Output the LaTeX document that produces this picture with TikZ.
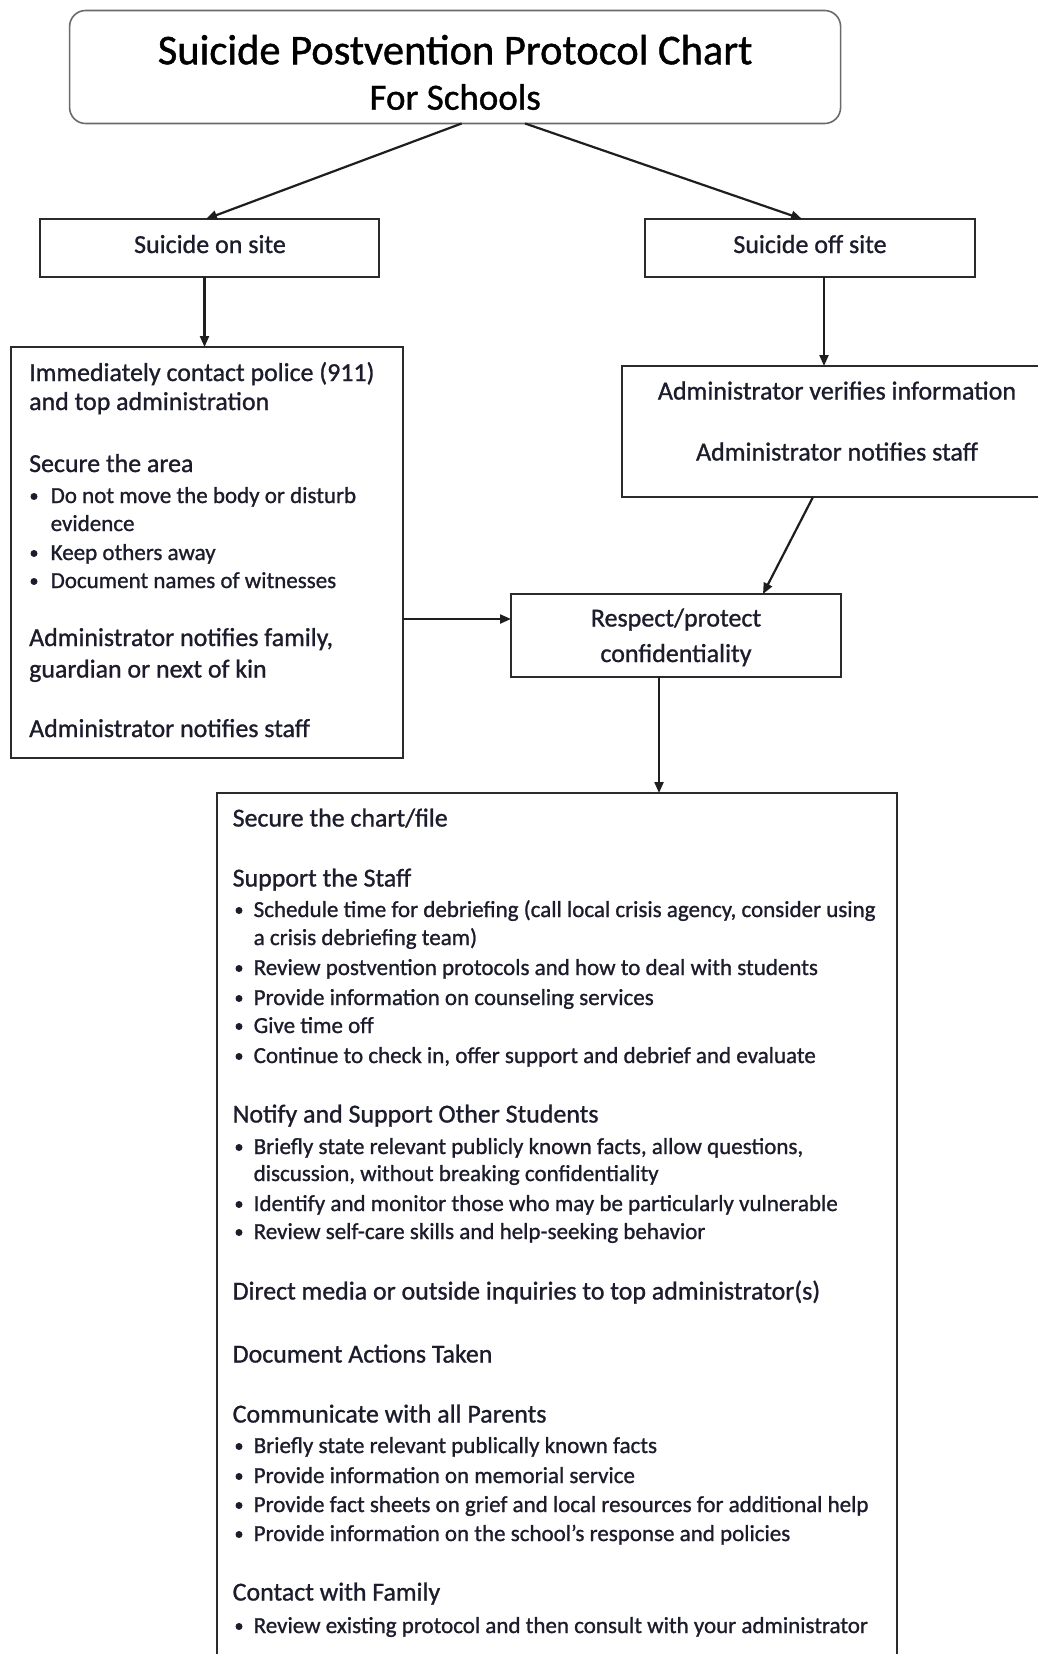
\documentclass[tikz,border=0pt]{standalone}
\usepackage{fontspec}
\setmainfont{Carlito}[FakeBold=1.0]
\usetikzlibrary{arrows.meta}
\definecolor{ink}{HTML}{1C1C2C}
\definecolor{boxc}{HTML}{2B2B2B}
\definecolor{titlec}{HTML}{6A6A6A}
\definecolor{linec}{HTML}{1E1E1E}
\tikzset{
  box/.style={draw=boxc, line width=1.8pt, anchor=north west, inner sep=0pt, outer sep=0pt},
  openbox/.style={draw=none, anchor=north west, inner sep=0pt, outer sep=0pt},
  arr/.style={draw=linec, line width=2.2pt, -{Triangle[length=11pt,width=9pt]}},
  hd/.style={anchor=base west, inner sep=0pt, text=ink, font=\fontsize{25.9}{30}\selectfont},
  bl/.style={anchor=base west, inner sep=0pt, text=ink, font=\fontsize{23}{27}\selectfont},
  hc/.style={anchor=base, inner sep=0pt, text=ink, font=\fontsize{26}{30}\selectfont},
  dotb/.style={circle, fill=ink, inner sep=0pt, minimum size=7pt},
}
\newcommand\bitem[5]{%
  \node[dotb] (#1d) at (#2,#4-6.5) {};
  \node[bl] (#1) at (#3,#4) {#5};}
\begin{document}
\begin{tikzpicture}[x=1pt,y=-1pt]
\useasboundingbox (0,0) rectangle (1038,1654);
\fill[white] (0,0) rectangle (1038,1654);

% ---- title ----
\node[box, draw=titlec, line width=1.6pt, rounded corners=16pt, minimum width=771pt, minimum height=113pt] (title) at (69.6,10.5) {};
\node[anchor=base, inner sep=0pt, text=black, font=\fontsize{42.5}{48}\selectfont] (t1) at (455.2,64.3) {Suicide Postvention Protocol Chart};
\node[anchor=base, inner sep=0pt, text=black, font=\fontsize{37}{42}\selectfont] (t2) at (455.2,109.7) {For Schools};

% ---- second row ----
\node[box, minimum width=339pt, minimum height=58pt] (onsite) at (40,219) {};
\node[hc] (onsitet) at (210,253) {Suicide on site};
\node[box, minimum width=330pt, minimum height=58pt] (offsite) at (645,219) {};
\node[hc] (offsitet) at (810,253) {Suicide off site};

% ---- left box ----
\node[box, minimum width=392pt, minimum height=411pt] (lbox) at (11,347) {};
\node[hd] (l1) at (29,381) {Immediately contact police (911)};
\node[hd] (l2) at (29,410) {and top administration};
\node[hd] (l3) at (29,472) {Secure the area};
\bitem{l4}{34}{50.5}{503}{Do not move the body or disturb}
\node[bl] (l5) at (50.5,531) {evidence};
\bitem{l6}{34}{50.5}{560}{Keep others away}
\bitem{l7}{34}{50.5}{588}{Document names of witnesses}
\node[hd] (l8) at (29,646) {Administrator notifies family,};
\node[hd] (l9) at (29,677.5) {guardian or next of kin};
\node[hd] (l10) at (29,737) {Administrator notifies staff};

% ---- admin box (open on the right) ----
\node[openbox, minimum width=416pt, minimum height=131pt] (abox) at (622,366) {};
\draw[boxc, line width=1.8pt] ([xshift=4pt]abox.north east) -- (abox.north west) -- (abox.south west) -- ([xshift=4pt]abox.south east);
\node[hc] (a1) at (837,399.5) {Administrator verifies information};
\node[hc] (a2) at (837,460.5) {Administrator notifies staff};

% ---- respect box ----
\node[box, minimum width=330pt, minimum height=83pt] (rbox) at (511,594) {};
\node[hc] (r1) at (676,626.5) {Respect/protect};
\node[hc] (r2) at (676,662) {confidentiality};

% ---- bottom box (open at the bottom) ----
\node[openbox, minimum width=680pt, minimum height=865pt] (bbox) at (217,793) {};
\draw[boxc, line width=1.8pt] (bbox.south west) -- (bbox.north west) -- (bbox.north east) -- (bbox.south east);
\node[hd] (b1) at (232.5,826.5) {Secure the chart/file};
\node[hd] (b2) at (232.5,886.5) {Support the Staff};
\bitem{b3}{239}{253.5}{917}{Schedule time for debriefing (call local crisis agency, consider using}
\node[bl] (b4) at (253.5,945) {a crisis debriefing team)};
\bitem{b5}{239}{253.5}{975}{Review postvention protocols and how to deal with students}
\bitem{b6}{239}{253.5}{1005}{Provide information on counseling services}
\bitem{b7}{239}{253.5}{1033}{Give time off}
\bitem{b8}{239}{253.5}{1063}{Continue to check in, offer support and debrief and evaluate}
\node[hd] (b9) at (232.5,1122.5) {Notify and Support Other Students};
\bitem{b10}{239}{253.5}{1154}{Briefly state relevant publicly known facts, allow questions,}
\node[bl] (b11) at (253.5,1181) {discussion, without breaking confidentiality};
\bitem{b12}{239}{253.5}{1211}{Identify and monitor those who may be particularly vulnerable}
\bitem{b13}{239}{253.5}{1239}{Review self-care skills and help-seeking behavior}
\node[hd] (b14) at (232.5,1299.5) {Direct media or outside inquiries to top administrator(s)};
\node[hd] (b15) at (232.5,1362.5) {Document Actions Taken};
\node[hd] (b16) at (232.5,1422.5) {Communicate with all Parents};
\bitem{b17}{239}{253.5}{1453}{Briefly state relevant publically known facts}
\bitem{b18}{239}{253.5}{1483}{Provide information on memorial service}
\bitem{b19}{239}{253.5}{1512}{Provide fact sheets on grief and local resources for additional help}
\bitem{b20}{239}{253.5}{1541}{Provide information on the school’s response and policies}
\node[hd] (b21) at (232.5,1600.5) {Contact with Family};
\bitem{b22}{239}{253.5}{1633}{Review existing protocol and then consult with your administrator}

% ---- connectors ----
\draw[arr] ([xshift=6.5pt]title.south) -- ([xshift=-3.5pt]onsite.north);
\draw[arr] ([xshift=70pt]title.south) -- ([xshift=-8pt]offsite.north);
\coordinate (c1) at ([xshift=-5pt]onsite.south);
\draw[arr] (c1) -- (c1 |- lbox.north);
\coordinate (c2) at ([xshift=14pt]offsite.south);
\draw[arr] (c2) -- (c2 |- abox.north);
\draw[arr] ([xshift=-17pt]abox.south) -- ([xshift=87pt]rbox.north);
\coordinate (c5) at ([yshift=16.5pt]rbox.west);
\draw[arr] (lbox.east |- c5) -- (c5);
\coordinate (c6) at ([xshift=-17pt]rbox.south);
\draw[arr] (c6) -- (c6 |- bbox.north);
\end{tikzpicture}
\end{document}
